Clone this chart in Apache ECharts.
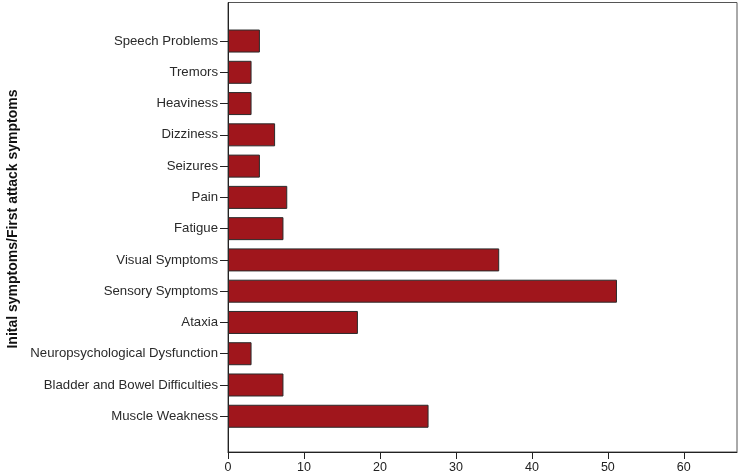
<!DOCTYPE html>
<html>
<head>
<meta charset="utf-8">
<script src="https://cdn.jsdelivr.net/npm/echarts@6/dist/echarts.min.js"></script>
<style>html,body{margin:0;padding:0;background:#fff;}#c{width:750px;height:474px;}</style>
</head>
<body>
<div id="c"></div>
<script>
// Categories listed bottom to top (category axis starts at the bottom)
var categories = [
  'Muscle Weakness',
  'Bladder and Bowel Difficulties',
  'Neuropsychological Dysfunction',
  'Ataxia',
  'Sensory Symptoms',
  'Visual Symptoms',
  'Fatigue',
  'Pain',
  'Seizures',
  'Dizziness',
  'Heaviness',
  'Tremors',
  'Speech Problems'
];
var values = [26.4, 7.3, 3.1, 17.1, 51.2, 35.7, 7.3, 7.8, 4.2, 6.2, 3.1, 3.1, 4.2];
var xTicks = [0, 10, 20, 30, 40, 50, 60];
var xMin = 0, xMax = 67, xStep = 10;
var yTitle = 'Inital symptoms/First attack symptoms';

var chart = echarts.init(document.getElementById('c'), null, {renderer: 'canvas'});
var labelFont = 'Liberation Sans, Arial, sans-serif';
chart.setOption({
  animation: false,
  backgroundColor: '#ffffff',
  grid: [
    {left: 228, right: 13, top: 2.5, bottom: 19.7, show: true, borderColor: '#555', borderWidth: 1, containLabel: false},
    {left: 228, right: 13, top: 25.4, bottom: 42.1, containLabel: false}
  ],
  xAxis: [
    {
      gridIndex: 0, type: 'value', min: xMin, max: xMax, interval: xStep,
      axisLine: {show: true, lineStyle: {color: '#222', width: 1}},
      axisTick: {show: true, length: 7, lineStyle: {color: '#222'}},
      axisLabel: {
        color: '#222', fontSize: 12.5, fontFamily: labelFont, margin: 9, showMaxLabel: false,
        formatter: function (v) { return xTicks.indexOf(v) >= 0 ? String(v) : ''; }
      },
      splitLine: {show: false}
    },
    {
      gridIndex: 1, type: 'value', min: xMin, max: xMax, interval: xStep,
      show: false, splitLine: {show: false}
    }
  ],
  yAxis: [
    {
      gridIndex: 0, type: 'value', min: 0, max: 1,
      axisLine: {show: true, lineStyle: {color: '#222', width: 1}},
      axisTick: {show: false}, axisLabel: {show: false}, splitLine: {show: false}
    },
    {
      gridIndex: 1, type: 'category', data: categories,
      axisLine: {show: false},
      axisTick: {show: true, alignWithLabel: true, length: 8, lineStyle: {color: '#222'}},
      axisLabel: {color: '#2a2a2a', fontSize: 13.2, fontFamily: labelFont, margin: 10}
    }
  ],
  graphic: [
    {
      type: 'text',
      x: 13, y: 219, rotation: Math.PI / 2,
      style: {
        text: yTitle, fill: '#111', font: 'bold 14px "Liberation Sans", Arial, sans-serif',
        textAlign: 'center', textVerticalAlign: 'middle'
      }
    }
  ],
  series: [
    {
      type: 'bar', xAxisIndex: 1, yAxisIndex: 1,
      data: values, barWidth: 23,
      itemStyle: {color: '#a0161c', borderColor: '#2a2a2a', borderWidth: 1},
      silent: true
    }
  ]
});
</script>
</body>
</html>
